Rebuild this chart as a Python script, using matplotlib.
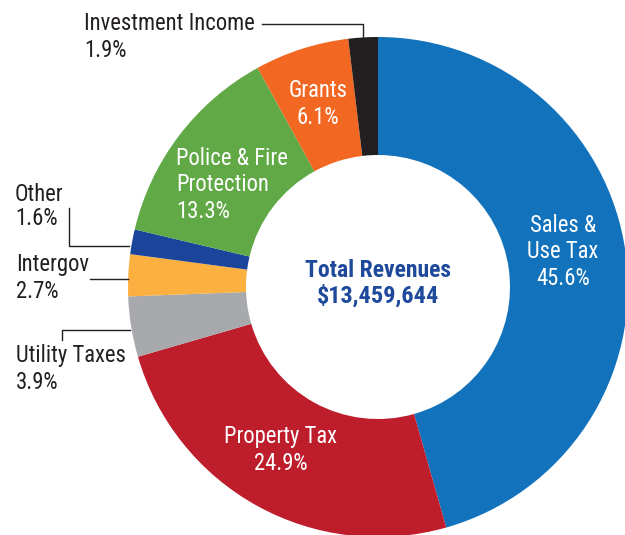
import matplotlib
matplotlib.use("Agg")
import matplotlib.pyplot as plt
from matplotlib import font_manager

categories = ["Sales & Use Tax", "Property Tax", "Utility Taxes", "Intergov", "Other",
              "Police & Fire Protection", "Grants", "Investment Income"]
shares = [45.6, 24.9, 3.9, 2.7, 1.6, 13.3, 6.1, 1.9]
colors = ["#1272BC", "#BE1D2C", "#A7A9AC", "#FBB040", "#1B449B", "#60A946", "#F26722", "#231F20"]
total_label = "Total Revenues"
total_value = "$13,459,644"

names = {f.name for f in font_manager.fontManager.ttflist}
FAM = [f for f in ("Roboto Condensed", "Archivo Narrow", "DejaVu Sans") if f in names] or ["DejaVu Sans"]

W, H = 625, 535
fig = plt.figure(figsize=(W / 100, H / 100), dpi=100)
ax = fig.add_axes([0, 0, 1, 1])

def Y(py):
    return H - py

cx, cy, R, r_in = 378, Y(287), 250, 132
ax.pie(shares, colors=colors, startangle=90, counterclock=False, center=(cx, cy), radius=R,
       wedgeprops=dict(width=R - r_in, linewidth=0))
ax.set_xlim(0, W)
ax.set_ylim(0, H)
ax.set_aspect("equal", adjustable="box")
ax.axis("off")

fs = 16.3
def txt(x, y, s, color="#231F20", ha="left", **kw):
    ax.text(x, Y(y), s, fontsize=fs, color=color, ha=ha, va="baseline", family=FAM, **kw)

# outside labels
txt(84, 30, "Investment Income")
txt(84, 57, "1.9%")
txt(15, 201, "Other")
txt(15, 225, "1.6%")
txt(16, 271, "Intergov")
txt(16, 298, "2.7%")
txt(16, 362, "Utility Taxes")
txt(16, 389, "3.9%")

lc = "#231F20"
lw = 1.0
ax.plot([262, 363, 363], [Y(24), Y(24), Y(37)], color=lc, lw=lw)
ax.plot([69, 69, 129], [Y(208), Y(246), Y(246)], color=lc, lw=lw)
ax.plot([90, 128], [Y(279), Y(279)], color=lc, lw=lw)
ax.plot([62, 62, 130], [Y(340), Y(330), Y(330)], color=lc, lw=lw)

# inside labels
w = "white"
txt(318, 97, "Grants", color=w, ha="center")
txt(318, 124, "6.1%", color=w, ha="center")
txt(176, 165, "Police & Fire", color=w)
txt(176, 191, "Protection", color=w)
txt(176, 218, "13.3%", color=w)
txt(563, 232, "Sales &", color=w, ha="center")
txt(563, 258, "Use Tax", color=w, ha="center")
txt(563, 285, "45.6%", color=w, ha="center")
txt(281, 443, "Property Tax", color=w, ha="center")
txt(281, 470, "24.9%", color=w, ha="center")

# center
cc = "#1F4A9C"
ax.text(378, Y(277), total_label, fontsize=17, color=cc, ha="center", va="baseline",
        family=FAM, fontweight="bold")
ax.text(378, Y(303), total_value, fontsize=17.5, color=cc, ha="center", va="baseline",
        family=FAM, fontweight="bold")

fig.savefig("out.png", dpi=100)
